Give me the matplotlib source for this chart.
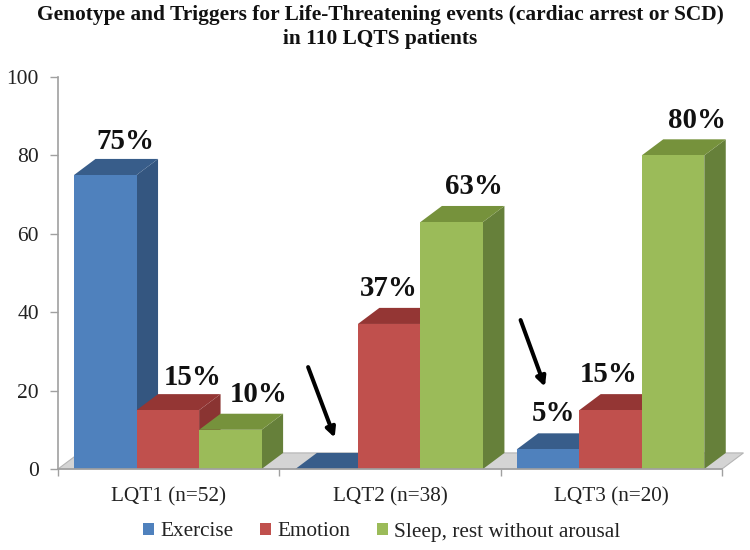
import matplotlib
matplotlib.use("Agg")
import matplotlib.pyplot as plt
from matplotlib.patches import Polygon, Rectangle

plt.rcParams["font.family"] = ["Liberation Serif", "DejaVu Serif"]

# =============================================================================

categories = ["LQT1 (n=52)", "LQT2 (n=38)", "LQT3 (n=20)"]
series_names = ["Exercise", "Emotion", "Sleep, rest without arousal"]
exercise = [75, 0, 5]
emotion = [15, 37, 15]
sleep = [10, 63, 80]
exercise_labels = ["75%", "", "5%"]
emotion_labels = ["15%", "37%", "15%"]
sleep_labels = ["10%", "63%", "80%"]
y_ticks = [0, 20, 40, 60, 80, 100]

front_colors = ["#4F81BD", "#C0504D", "#9BBB59"]
top_colors = ["#385D8A", "#943634", "#76923C"]
side_colors = ["#345680", "#8A3432", "#66803A"]

W, H = 750, 550
fig = plt.figure(figsize=(W / 100, H / 100), dpi=100)
ax = fig.add_axes([58 / W, 1 - 469 / H, 664 / W, 392 / H])
ax.set_xlim(0, 3)
ax.set_ylim(0, 100)

bar_w = 0.2825
dx, dy = 0.097, 4.1

# the labels were placed by hand in the original, so nudge each one (pixels)
nudges = [
    [(7, -2), (0, 0), (-7, 0)],
    [(12, -3), (-13, 0), (-15, 0)],
    [(15, -1), (9, 0), (11, -1)],
]

# grey floor of the 3d box
ax.add_patch(Polygon([(0, 0), (3, 0), (3 + dx, dy), (dx, dy)],
                     facecolor="#D4D4D4", edgecolor="#B5B5B5", lw=0.8,
                     zorder=1, clip_on=False))

all_values = [exercise, emotion, sleep]
all_labels = [exercise_labels, emotion_labels, sleep_labels]
z = 2
for s, values in enumerate(all_values):
    for g, v in enumerate(values):
        left = g + 0.0725 + s * bar_w
        right = left + bar_w
        ax.add_patch(Polygon([(right, 0), (right + dx, dy), (right + dx, v + dy), (right, v)],
                             facecolor=side_colors[s], edgecolor="none", zorder=z, clip_on=False))
        ax.add_patch(Polygon([(left, v), (right, v), (right + dx, v + dy), (left + dx, v + dy)],
                             facecolor=top_colors[s], edgecolor="none", zorder=z, clip_on=False))
        ax.bar(left, v, bar_w, align="edge", color=front_colors[s], zorder=z + 1)
        z += 2
        if all_labels[s][g]:
            nx, ny = nudges[s][g]
            ax.annotate(all_labels[s][g], (left + bar_w / 2 + dx / 2 + 0.01, v + dy + 1.6),
                        xytext=(nx * 0.72, ny * 0.72), textcoords="offset points",
                        ha="center", va="bottom", fontsize=20.8, fontweight="bold",
                        color="#111111", zorder=40)

for spine in ["top", "right"]:
    ax.spines[spine].set_visible(False)
for spine in ["left", "bottom"]:
    ax.spines[spine].set_color("#A0A0A0")
    ax.spines[spine].set_linewidth(1.2)
    ax.spines[spine].set_zorder(30)

ax.set_yticks(y_ticks)
ax.set_xticks([0, 1, 2, 3])
ax.set_xticklabels([])
ax.set_xticks([0.5, 1.5, 2.5], labels=categories, minor=True)
ax.tick_params(axis="y", length=5.8, width=1, color="#A0A0A0", labelsize=15.5, pad=8, labelcolor="#222222")
ax.tick_params(axis="x", which="major", length=5, width=1, color="#A0A0A0")
ax.tick_params(axis="x", which="minor", length=0, labelsize=15.3, pad=13, labelcolor="#222222")

# arrows pointing at the low exercise bars
for start, end in [((1.13, 26), (1.25, 8)), ((2.09, 38), (2.2, 21))]:
    ax.annotate("", xy=end, xytext=start, zorder=50,
                arrowprops=dict(arrowstyle="-|>", color="black", lw=2.9,
                                mutation_scale=14, shrinkA=0, shrinkB=0))

fig.text(380 / W, 1 - 5 / H, "Genotype and Triggers for Life-Threatening events (cardiac arrest or SCD)\nin 110 LQTS patients",
         ha="center", va="top", fontsize=15.4, fontweight="bold", linespacing=1.27, color="#111111")

handles = [Rectangle((0, 0), 1, 1, facecolor=c) for c in front_colors]
fig.legend(handles, series_names, loc="center", bbox_to_anchor=(382 / W, 1 - 532 / H), ncol=3,
           frameon=False, fontsize=15.3, handlelength=0.52, handleheight=0.52,
           handletextpad=0.28, columnspacing=1.27, labelcolor="#222222")

fig.savefig("out.png", dpi=100)
plt.close(fig)
